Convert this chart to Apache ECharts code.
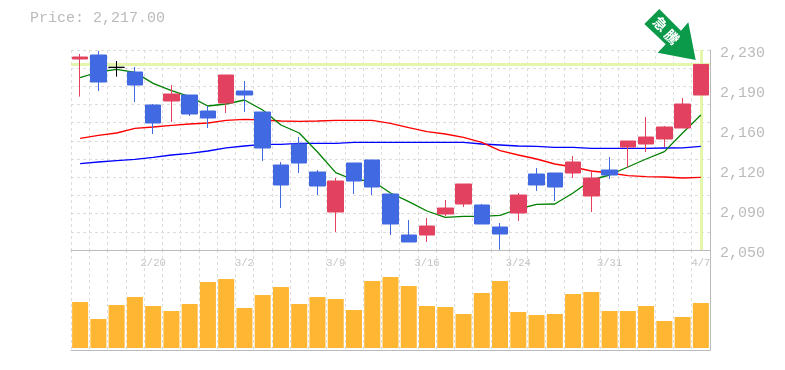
<!DOCTYPE html>
<html>
<head>
<meta charset="utf-8">
<style>
html, body { margin: 0; padding: 0; background: #fff; }
#chart { width: 785px; height: 370px; }
</style>
<script src="https://cdn.jsdelivr.net/npm/echarts@6/dist/echarts.min.js"></script>
</head>
<body>
<div id="chart"></div>
<script>
var dates = ['2/16','2/17','2/18','2/19','2/20','2/24','2/25','2/26','2/27','3/2','3/3','3/4','3/5','3/6','3/9','3/10','3/11','3/12','3/13','3/16','3/17','3/18','3/19','3/23','3/24','3/25','3/26','3/27','3/30','3/31','4/1','4/2','4/3','4/6','4/7'];
var opens = [2221.9,2225.5,2214.4,2210.2,2180.5,2184.1,2189.5,2175.1,2182.3,2193.1,2174.2,2126.5,2145.4,2120.2,2084.2,2128.3,2131,2100.4,2063.5,2063.5,2082.4,2091.4,2090.5,2070.7,2083.3,2118.4,2119.3,2119.3,2098.6,2122,2142.7,2145.4,2149.9,2159.8,2189.5];
var closes = [2223.7,2201.2,2214.4,2198.5,2164.3,2190.4,2172.4,2168.8,2207.5,2189.5,2141.8,2108.5,2128.3,2107.6,2112.1,2112.1,2106.7,2073.4,2057.2,2071.6,2087.8,2109.4,2073.4,2064.4,2099.5,2108.5,2106.7,2129.2,2114.8,2117.5,2148.1,2151.7,2160.7,2181.4,2217];
var lows = [2188,2193.1,2206,2183.2,2154.4,2165.2,2170.6,2159.8,2173.3,2174.2,2130.1,2087.8,2119.3,2099.5,2066.2,2100.4,2099.5,2063.5,2057.2,2057.2,2080.6,2088.7,2073.4,2050.3,2076.1,2103.1,2094.1,2114.8,2084.2,2113.9,2123.8,2138.2,2142.7,2159.8,2189.5];
var highs = [2226.4,2229.1,2220.1,2214.7,2181.4,2198.5,2189.5,2179.6,2207.5,2202.1,2174.2,2129.2,2151.7,2122,2114.8,2128.3,2131,2100.4,2077,2078.8,2095,2109.4,2091.4,2074.3,2101.3,2123.8,2119.3,2134.6,2122,2133.7,2148.1,2169.7,2161.6,2186.8,2217];
var maShort = [2205.1,2210.2,2212.6,2209.9,2200,2193.4,2188,2179.6,2181.4,2185,2176,2162.5,2155.3,2138.2,2119.6,2113,2112.4,2101.3,2093.5,2085.1,2079.4,2080.3,2080.3,2081.2,2086.9,2091.1,2091.4,2101.3,2113,2117.5,2124.7,2131.9,2138.5,2155.3,2171.5];
var maMid = [2150.5,2153.2,2155.3,2159.5,2160.7,2162.2,2163.4,2164.3,2166.7,2167.6,2167,2166.1,2165.8,2166.1,2166.7,2166.7,2166.7,2164,2160.1,2156.5,2154.4,2151.4,2146.9,2139.4,2135.5,2131.9,2127.4,2124.7,2121.1,2119.3,2116.9,2116,2115.7,2114.8,2115.4];
var maLong = [2127.7,2129.2,2130.4,2131.6,2133.4,2135.5,2137,2139.1,2142,2143.6,2145.1,2145.1,2146,2146,2146,2146.9,2146.9,2146.9,2146.9,2146.9,2146.9,2146.9,2145.4,2144.5,2143.6,2143.3,2142.4,2142.4,2141.5,2141.5,2141.5,2141.5,2141.8,2142,2143.3];
var volumes = [46,29,43,51,42,37,44,66,69,40,53,61,44,51,49,38,67,71,62,42,41,34,55,67,36,33,34,54,56,37,37,42,27,31,45];
var priceTicks = ['2,050','2,090','2,120','2,160','2,190','2,230'];
var lastPrice = 2217;

var candles = [];
for (var i = 0; i < dates.length; i++) {
    candles.push([opens[i], closes[i], lows[i], highs[i]]);
}

var textGray = '#bbbbbb';
var gridGray = '#dddddd';
var monoFont = '"Liberation Mono", monospace';
var dashed = { color: gridGray, type: [3, 3], width: 1 };
var frame = { color: textGray, width: 1 };

var myChart = echarts.init(document.getElementById('chart'), null, { renderer: 'canvas' });
var option = {
    animation: false,
    backgroundColor: '#ffffff',
    grid: [
        { left: 71, top: 50, width: 639, height: 200 },
        { left: 71, top: 250, width: 639, height: 100 }
    ],
    xAxis: [
        {
            type: 'category', gridIndex: 0, data: dates,
            axisTick: { show: false },
            axisLine: { show: true, onZero: false, lineStyle: frame },
            splitLine: { show: true, interval: 0, lineStyle: dashed },
            axisLabel: {
                color: '#c4c4c4', fontFamily: monoFont, fontSize: 10.5, margin: 8,
                interval: function (idx) { return idx % 5 === 4; }
            }
        },
        {
            type: 'category', gridIndex: 1, data: dates,
            axisTick: { show: false },
            axisLabel: { show: false },
            axisLine: { show: true, onZero: false, lineStyle: frame },
            splitLine: { show: true, interval: 0, lineStyle: dashed }
        }
    ],
    yAxis: [
        // price scale, carries the candles and averages
        { type: 'value', gridIndex: 0, min: 2050, max: 2230, show: false },
        // tick labels sit every 40px, not on the dotted grid
        {
            type: 'value', gridIndex: 0, min: 0, max: 5, interval: 1, position: 'right',
            axisLine: { show: true, lineStyle: frame },
            axisTick: { show: false },
            splitLine: { show: false },
            axisLabel: {
                color: textGray, fontFamily: monoFont, fontSize: 15, margin: 10,
                verticalAlign: 'top', lineHeight: 6,
                formatter: function (v) { return priceTicks[v]; }
            }
        },
        // dotted horizontal grid
        {
            type: 'value', gridIndex: 0, min: 0, max: 11, interval: 1, position: 'left',
            axisLine: { show: false }, axisTick: { show: false }, axisLabel: { show: false },
            splitLine: { show: true, lineStyle: dashed }
        },
        {
            type: 'value', gridIndex: 1, min: -2, max: 98, position: 'right',
            axisLine: { show: true, lineStyle: frame },
            axisTick: { show: false }, axisLabel: { show: false }, splitLine: { show: false }
        }
    ],
    series: [
        {
            type: 'line', xAxisIndex: 0, yAxisIndex: 0, data: [], z: 1,
            markLine: {
                silent: true, symbol: 'none', z: 1, animation: false,
                label: { show: false },
                lineStyle: { color: '#e3f6ac', width: 3, type: 'solid' },
                data: [{ yAxis: lastPrice }, { xAxis: dates[dates.length - 1] }]
            }
        },
        { type: 'line', xAxisIndex: 0, yAxisIndex: 0, data: maLong, symbol: 'none', z: 2, lineStyle: { color: '#0000ff', width: 1.3 } },
        { type: 'line', xAxisIndex: 0, yAxisIndex: 0, data: maMid, symbol: 'none', z: 2, lineStyle: { color: '#ff0000', width: 1.3 } },
        { type: 'line', xAxisIndex: 0, yAxisIndex: 0, data: maShort, symbol: 'none', z: 2, lineStyle: { color: '#008000', width: 1.3 } },
        {
            type: 'candlestick', xAxisIndex: 0, yAxisIndex: 0, data: candles, barWidth: 16, z: 3,
            itemStyle: {
                color: '#e2425f', color0: '#4169e1',
                borderColor: '#e2425f', borderColor0: '#4169e1',
                borderColorDoji: '#000000', borderWidth: 1
            }
        },
        {
            type: 'bar', xAxisIndex: 1, yAxisIndex: 3, data: volumes, barWidth: 16,
            itemStyle: { color: '#ffb733' }
        }
    ],
    graphic: [
        {
            type: 'text', left: 30, top: 11,
            style: { text: 'Price: 2,217.00', fill: textGray, font: '15px ' + monoFont }
        },
        {
            type: 'polygon',
            shape: { points: [[659.3, 9], [681, 30.7], [688.3, 22.3], [695.7, 60], [657.7, 52.7], [665.7, 44.3], [644.3, 24]] },
            style: { fill: '#0a9a4a' }, z: 10
        },
        {
            type: 'text', x: 660.5, y: 24, rotation: -Math.PI / 4,
            style: { text: '急', fill: '#ffffff', align: 'center', verticalAlign: 'middle', font: 'bold 14px "Noto Sans CJK JP"' }, z: 11
        },
        {
            type: 'text', x: 672, y: 37, rotation: -Math.PI / 4,
            style: { text: '騰', fill: '#ffffff', align: 'center', verticalAlign: 'middle', font: 'bold 14px "Noto Sans CJK JP"' }, z: 11
        }
    ]
};
myChart.setOption(option);
</script>
</body>
</html>
